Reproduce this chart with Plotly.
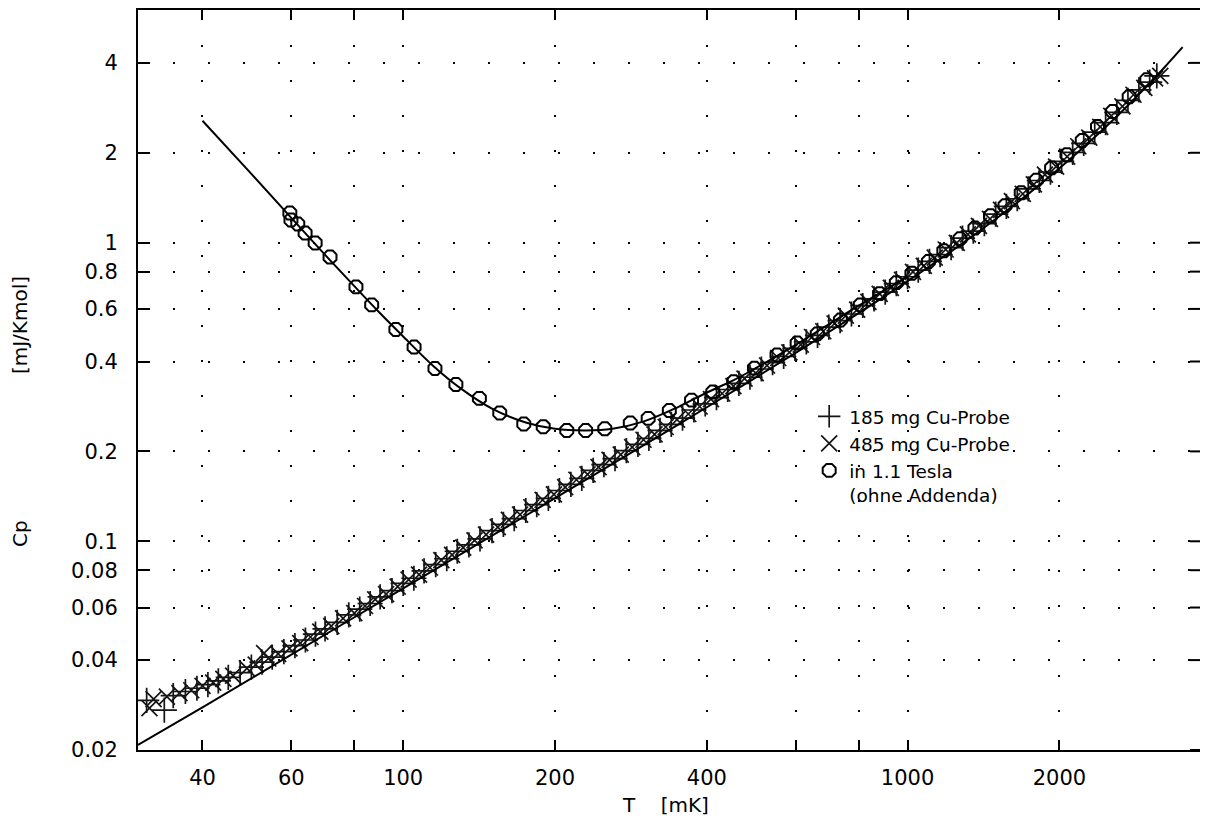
import plotly.graph_objects as go

# Specific heat of copper samples, log-log (T in mK, Cp in mJ/(K mol))

# fitted curve without field
fit_T = [29.8, 40, 60, 100, 150, 200, 300, 400, 600, 800, 1000, 1250, 1500,
         1750, 2000, 2250, 2500, 2750, 3000, 3250, 3510]
fit_Cp = [0.0208, 0.0278, 0.0417, 0.0696, 0.1044, 0.1394, 0.2098, 0.2811,
          0.4274, 0.5806, 0.743, 0.9626, 1.2045, 1.4735, 1.774, 2.1105,
          2.4875, 2.9095, 3.381, 3.907, 4.515]

# fitted curve in 1.1 Tesla
fit_B_T = [40, 50, 60, 70, 80, 90, 100, 115, 130, 150, 175, 200, 230, 260,
           300, 350, 400, 450, 500, 600, 700, 800, 1000]
fit_B_Cp = [2.56, 1.70, 1.21, 0.91, 0.715, 0.58, 0.485, 0.385, 0.325, 0.278,
            0.250, 0.238, 0.235, 0.238, 0.252, 0.281, 0.315, 0.345, 0.380,
            0.455, 0.535, 0.615, 0.77]

# 185 mg Cu sample
p185_T = [31, 33.6, 35, 37, 39, 41, 43, 45, 47.5, 50, 52.5, 55, 58, 61, 64, 67,
          70, 74, 78, 82, 86, 90, 95, 100, 105, 110, 116, 122, 128, 135, 142,
          150, 158, 166, 175, 184, 194, 204, 215, 226, 238, 250, 263, 277, 292,
          307, 323, 340, 358, 377, 397, 418, 440, 463, 487, 513, 540, 568, 598,
          630, 663, 698, 735, 774, 815, 858, 903, 950, 1000, 1050, 1105, 1160,
          1220, 1285, 1350, 1420, 1495, 1570, 1650, 1735, 1825, 1920, 2020,
          2125, 2235, 2350, 2470, 2600, 2735, 2875, 3020, 3120]
p185_Cp = [0.0293, 0.0272, 0.0304, 0.0314, 0.0322, 0.0331, 0.0341, 0.0350,
           0.0363, 0.0379, 0.0394, 0.0409, 0.0427, 0.0447, 0.0467, 0.0489,
           0.0509, 0.0535, 0.0567, 0.0593, 0.0619, 0.0651, 0.0684, 0.0723,
           0.0752, 0.0796, 0.0835, 0.0874, 0.0926, 0.0972, 0.1018, 0.1086,
           0.1139, 0.1191, 0.1268, 0.1327, 0.1393, 0.1479, 0.1551, 0.1624,
           0.1727, 0.1806, 0.1892, 0.2012, 0.2112, 0.2212, 0.2351, 0.2465,
           0.2585, 0.2752, 0.2887, 0.3028, 0.3223, 0.3379, 0.3543, 0.3775,
           0.3963, 0.4157, 0.4429, 0.4656, 0.489, 0.5215, 0.5484, 0.577,
           0.6161, 0.6485, 0.6828, 0.7295, 0.769, 0.8089, 0.8661, 0.912,
           0.9632, 1.035, 1.093, 1.158, 1.247, 1.322, 1.403, 1.515, 1.615,
           1.724, 1.871, 2.005, 2.152, 2.346, 2.525, 2.730, 2.998, 3.249,
           3.45, 3.62]

# 485 mg Cu sample
x485_T = [31.4, 32, 34, 36, 38, 40, 42, 44, 46, 49, 51, 53, 54, 56.5, 59.5,
          62.5, 65.5, 68.5, 72, 76, 80, 84, 88, 92.5, 97.5, 102.5, 107.5, 113,
          119, 125, 131.5, 138.5, 146, 154, 162, 170.5, 179.5, 189, 199, 209.5,
          220.5, 232, 244, 256.5, 270, 284.5, 299.5, 315, 331.5, 349, 367.5,
          387, 407.5, 429, 451.5, 475, 500, 526.5, 554, 583, 614, 646.5, 680.5,
          716.5, 754.5, 794.5, 836.5, 880.5, 926.5, 975, 1025, 1077, 1132,
          1190, 1252, 1317, 1385, 1457, 1532, 1610, 1692, 1780, 1872, 1970,
          2072, 2180, 2292, 2410, 2535, 2667, 2805, 2947, 3095, 3170]
x485_Cp = [0.0276, 0.0296, 0.0302, 0.0310, 0.0317, 0.0328, 0.0336, 0.0346,
           0.0355, 0.0375, 0.0386, 0.0422, 0.0405, 0.0420, 0.0438, 0.0456,
           0.0478, 0.0498, 0.0520, 0.0552, 0.0575, 0.0607, 0.0639, 0.0665,
           0.0705, 0.0744, 0.0773, 0.0817, 0.0865, 0.0900, 0.0952, 0.1007,
           0.1052, 0.1115, 0.1179, 0.1229, 0.1300, 0.1376, 0.1436, 0.1519,
           0.1607, 0.1675, 0.1771, 0.1872, 0.1952, 0.2068, 0.2188, 0.2281,
           0.2414, 0.2556, 0.2668, 0.2827, 0.2993, 0.3125, 0.3309, 0.3503,
           0.3659, 0.3878, 0.4109, 0.4292, 0.4553, 0.4831, 0.5051, 0.5362,
           0.5695, 0.5964, 0.6338, 0.6737, 0.7058, 0.7509, 0.7985, 0.8368,
           0.8907, 0.9487, 0.9981, 1.066, 1.139, 1.202, 1.287, 1.378, 1.457,
           1.568, 1.690, 1.797, 1.941, 2.103, 2.248, 2.442, 2.660, 2.862,
           3.129, 3.30, 3.55, 3.62]

# measurement in 1.1 Tesla (without addenda)
mag_T = [59.6, 59.9, 61.8, 63.9, 66.9, 71.6, 80.6, 86.6, 96.7, 105.1, 115.6,
         127.2, 141.6, 155.4, 173.4, 189.5, 211, 230, 251, 282, 306, 337, 373,
         411, 452, 497, 551, 604, 662, 736, 806, 880, 950, 1020, 1100, 1180,
         1270, 1360, 1460, 1560, 1680, 1800, 1930, 2070, 2220, 2380, 2550,
         2750, 2980]
mag_Cp = [1.257, 1.191, 1.155, 1.077, 0.998, 0.895, 0.711, 0.619, 0.512,
          0.447, 0.379, 0.335, 0.301, 0.269, 0.247, 0.242, 0.235, 0.235,
          0.238, 0.249, 0.258, 0.274, 0.297, 0.316, 0.342, 0.380, 0.421,
          0.461, 0.495, 0.551, 0.619, 0.675, 0.735, 0.79, 0.865, 0.94, 1.03,
          1.12, 1.23, 1.33, 1.47, 1.62, 1.78, 1.97, 2.20, 2.45, 2.75, 3.08,
          3.51]

x_tickvals = [40, 60, 80, 100, 200, 400, 600, 800, 1000, 2000]
x_ticktext = ["40", "60", "", "100", "200", "400", "", "", "1000", "2000"]
y_tickvals = [0.02, 0.04, 0.06, 0.08, 0.1, 0.2, 0.4, 0.6, 0.8, 1, 2, 4]
y_ticktext = ["0.02", "0.04", "0.06", "0.08", "0.1", "0.2", "0.4", "0.6",
              "0.8", "1", "2", "4"]

FONT = "DejaVu Sans"
INK = "black"
BAND = "#151515"
x_range = [1.4742, 3.5798]
y_range = [-1.699, 0.7792]

# plot frame in pixels (left, right, top, bottom)
PL, PR, PT, PB = 138, 1200, 10, 750
PW, PH = PR - PL, PB - PT

fig = go.Figure()

fig.add_trace(go.Scatter(
    x=p185_T, y=p185_Cp, mode="markers", name="185 mg Cu-Probe",
    marker=dict(symbol="cross-thin-open", size=18, color=BAND,
                line=dict(width=1.7, color=BAND)),
))
fig.add_trace(go.Scatter(
    x=x485_T, y=x485_Cp, mode="markers", name="485 mg Cu-Probe",
    marker=dict(symbol="x-thin-open", size=16, color=BAND,
                line=dict(width=1.7, color=BAND)),
))
fig.add_trace(go.Scatter(
    x=mag_T, y=mag_Cp, mode="markers", name="in 1.1 Tesla<br>(ohne Addenda)",
    marker=dict(symbol="octagon-open", size=14, color=INK,
                line=dict(width=2, color=INK)),
))
fig.add_trace(go.Scatter(
    x=fit_T, y=fit_Cp, mode="lines", showlegend=False,
    line=dict(color=INK, width=2, shape="spline"),
))
fig.add_trace(go.Scatter(
    x=fit_B_T, y=fit_B_Cp, mode="lines", showlegend=False,
    line=dict(color=INK, width=2, shape="spline"),
))

# inward tick marks along the right edge of the frame
right_ticks = [
    dict(type="line", xref="paper", yref="y", x0=1.0, x1=1.0 - 10 / PW,
         y0=v, y1=v, line=dict(color=INK, width=2))
    for v in y_tickvals
]

grid_dash = "2px,33px"
TICK_FONT = dict(family=FONT, size=21, color=INK)
TITLE_FONT = dict(family=FONT, size=20, color=INK)

fig.update_layout(
    width=1208, height=818,
    margin=dict(l=PL, r=1208 - PR, t=PT, b=818 - PB),
    paper_bgcolor="white", plot_bgcolor="white",
    font=dict(family=FONT, size=21, color=INK),
    showlegend=True,
    legend=dict(
        x=0.632, y=0.476, xanchor="left", yanchor="top",
        bgcolor="rgba(0,0,0,0)", borderwidth=0,
        font=dict(family=FONT, size=18.5, color=INK),
        valign="top", itemsizing="trace", tracegroupgap=0,
    ),
    xaxis=dict(
        type="log", range=x_range, automargin=False,
        tickvals=x_tickvals, ticktext=x_ticktext, tickfont=TICK_FONT,
        ticks="inside", ticklen=10, tickwidth=2, tickcolor=INK,
        showline=True, linewidth=2, linecolor=INK, mirror="ticks",
        showgrid=True, gridcolor=INK, gridwidth=2, griddash=grid_dash,
        zeroline=False, ticklabelstandoff=8,
    ),
    yaxis=dict(
        type="log", range=y_range, automargin=False,
        tickvals=y_tickvals, ticktext=y_ticktext, tickfont=TICK_FONT,
        ticks="inside", ticklen=12, tickwidth=2, tickcolor=INK,
        showline=True, linewidth=2, linecolor=INK, mirror=False,
        showgrid=True, gridcolor=INK, gridwidth=2, griddash=grid_dash,
        zeroline=False, ticklabelstandoff=14,
    ),
    shapes=right_ticks,
    annotations=[
        dict(text="T    [mK]",
             xref="paper", yref="paper",
             x=(665 - PL) / PW, y=(PB - 805) / PH,
             xanchor="center", yanchor="middle", showarrow=False,
             font=TITLE_FONT),
        dict(text="Cp" + " " * 23 + "[mJ/Kmol]", textangle=-90,
             xref="paper", yref="paper",
             x=(20 - PL) / PW, y=(PB - 412) / PH,
             xanchor="center", yanchor="middle", showarrow=False,
             font=TITLE_FONT),
    ],
)

fig.write_html("out.html")
